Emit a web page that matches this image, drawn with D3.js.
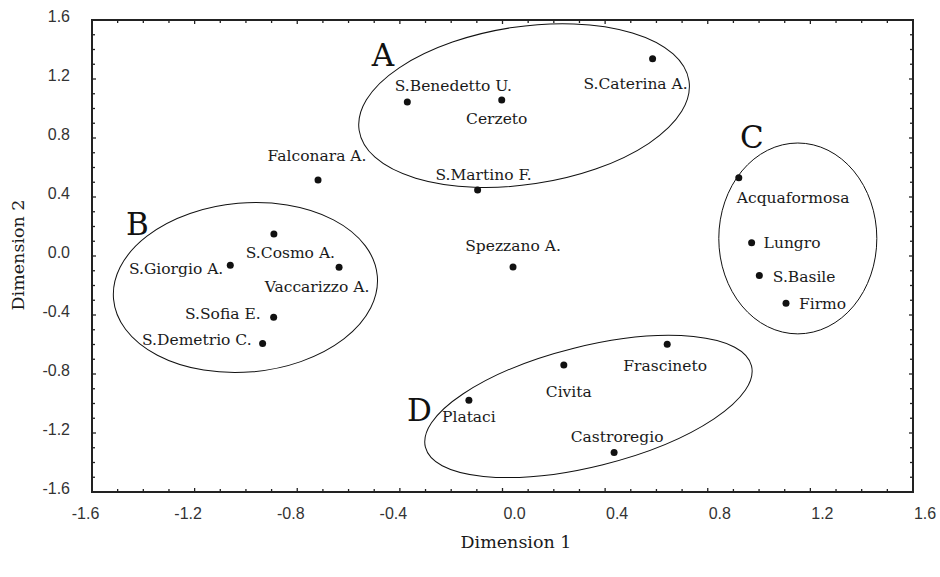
<!DOCTYPE html>
<html>
<head>
<meta charset="utf-8">
<script src="https://cdn.jsdelivr.net/npm/d3@7"></script>
<style>
  body { margin: 0; background: #fff; }
  svg { display: block; }
</style>
</head>
<body>
<div id="chart"></div>
<script>
// MDS configuration of the villages
const names = ["S.Caterina A.", "S.Benedetto U.", "Cerzeto", "S.Martino F.", "Falconara A.",
  "S.Cosmo A.", "S.Giorgio A.", "Vaccarizzo A.", "S.Sofia E.", "S.Demetrio C.",
  "Spezzano A.", "Acquaformosa", "Lungro", "S.Basile", "Firmo",
  "Frascineto", "Civita", "Plataci", "Castroregio"];
const dim1 = [0.585, -0.371, -0.003, -0.097, -0.719,
  -0.891, -1.061, -0.637, -0.892, -0.935,
  0.041, 0.921, 0.971, 1.001, 1.105,
  0.642, 0.239, -0.131, 0.435];
const dim2 = [1.338, 1.044, 1.058, 0.447, 0.515,
  0.149, -0.063, -0.077, -0.416, -0.594,
  -0.075, 0.531, 0.090, -0.133, -0.321,
  -0.599, -0.739, -0.978, -1.333];

// cluster ellipses: centre (data units), half-axes (x units, y units), tilt in degrees
const groups = ["A", "B", "C", "D"];
const groupCx = [0.084, -1.002, 1.151, 0.335];
const groupCy = [1.020, -0.214, 0.119, -1.020];
const groupRx = [0.650, 0.516, 0.308, 0.655];
const groupRy = [0.535, 0.573, 0.647, 0.407];
const groupTilt = [8.5, 5, 0, 14];
const letterX = [-0.466, -1.423, 0.972, -0.324];
const letterY = [1.363, 0.217, 0.807, -1.044];

const tickLabels = ["-1.6", "-1.2", "-0.8", "-0.4", "0.0", "0.4", "0.8", "1.2", "1.6"];

const W = 940, H = 577;
const margin = { top: 20, right: 27, bottom: 85, left: 92 };
const width = W - margin.left - margin.right,
  height = H - margin.top - margin.bottom;

const svg = d3.select("#chart").append("svg")
  .attr("width", W).attr("height", H);
const g = svg.append("g")
  .attr("transform", `translate(${margin.left},${margin.top})`);

const x = d3.scaleLinear().domain([-1.6, 1.6]).range([0, width]);
const y = d3.scaleLinear().domain([-1.6, 1.6]).range([height, 0]);

const serif = "'DejaVu Serif', serif";
const sans = "'Liberation Sans', Arial, sans-serif";

// minor ticks every 0.1, major every 0.4, all pointing inward
const minor = d3.range(-16, 17).map(d => d / 10);
const isMajor = d => Math.abs(Math.round(d * 10) % 4) === 0;

// bottom + top
[[height, -1], [0, 1]].forEach(([yy, dir]) => {
  g.append("g").selectAll("line").data(minor).join("line")
    .attr("x1", d => x(d)).attr("x2", d => x(d))
    .attr("y1", yy).attr("y2", d => yy + dir * (isMajor(d) ? 4 : 3))
    .attr("stroke", "#222").attr("stroke-width", 1.3);
});
// left + right
[[0, 1], [width, -1]].forEach(([xx, dir]) => {
  g.append("g").selectAll("line").data(minor).join("line")
    .attr("y1", d => y(d)).attr("y2", d => y(d))
    .attr("x1", xx).attr("x2", d => xx + dir * (isMajor(d) ? 4 : 3))
    .attr("stroke", "#222").attr("stroke-width", 1.3);
});

g.append("rect")
  .attr("width", width).attr("height", height)
  .attr("fill", "none").attr("stroke", "#222").attr("stroke-width", 2);

// tick labels
g.append("g").selectAll("text").data(tickLabels).join("text")
  .attr("x", d => x(+d) + (+d < 0 ? -6.5 : 12))
  .attr("y", height + 21)
  .attr("dominant-baseline", "central")
  .attr("text-anchor", "middle")
  .attr("font-family", sans).attr("font-size", 16).attr("fill", "#333")
  .text(d => d);

g.append("g").selectAll("text").data(tickLabels).join("text")
  .attr("x", -22)
  .attr("y", d => y(+d) - 4)
  .attr("dominant-baseline", "central")
  .attr("text-anchor", "end")
  .attr("font-family", sans).attr("font-size", 16).attr("fill", "#333")
  .text(d => d);

// axis titles
svg.append("text")
  .attr("x", 516).attr("y", 548)
  .attr("text-anchor", "middle")
  .attr("font-family", serif).attr("font-size", 17.5).attr("fill", "#1a1a1a")
  .text("Dimension 1");
svg.append("text")
  .attr("transform", "translate(24,255) rotate(-90)")
  .attr("text-anchor", "middle")
  .attr("font-family", serif).attr("font-size", 17.5).attr("fill", "#1a1a1a")
  .text("Dimension 2");

// ellipses
const gx = x(0), gy = y(0);
g.append("g").selectAll("ellipse").data(groups).join("ellipse")
  .attr("transform", (d, i) => `translate(${x(groupCx[i])},${y(groupCy[i])}) rotate(${-groupTilt[i]})`)
  .attr("rx", (d, i) => x(groupRx[i]) - gx)
  .attr("ry", (d, i) => gy - y(groupRy[i]))
  .attr("fill", "none").attr("stroke", "#111").attr("stroke-width", 1);

g.append("g").selectAll("text").data(groups).join("text")
  .attr("x", (d, i) => x(letterX[i]))
  .attr("y", (d, i) => y(letterY[i]) + 11)
  .attr("text-anchor", "middle")
  .attr("font-family", serif).attr("font-size", 31).attr("fill", "#111")
  .text(d => d);

// points
g.append("g").selectAll("circle").data(names).join("circle")
  .attr("cx", (d, i) => x(dim1[i]))
  .attr("cy", (d, i) => y(dim2[i]))
  .attr("r", 3.5).attr("fill", "#111");

// label placement relative to each dot: [anchor, dx, dy of text centre]
const place = {
  "S.Caterina A.": ["middle", -17, 25],
  "S.Benedetto U.": ["middle", 46, -17],
  "Cerzeto": ["middle", -5, 19],
  "S.Martino F.": ["middle", 6, -16],
  "Falconara A.": ["middle", -1, -25],
  "S.Cosmo A.": ["middle", 16.5, 18],
  "S.Giorgio A.": ["end", -7, 3],
  "Vaccarizzo A.": ["middle", -22, 19],
  "S.Sofia E.": ["end", -13, -4],
  "S.Demetrio C.": ["end", -11, -4],
  "Spezzano A.": ["middle", 0, -22],
  "Acquaformosa": ["start", -2, 20],
  "Lungro": ["start", 12, 0],
  "S.Basile": ["start", 13.5, 1],
  "Firmo": ["start", 13, 0],
  "Frascineto": ["middle", -2, 21],
  "Civita": ["middle", 5, 26],
  "Plataci": ["middle", 0, 16],
  "Castroregio": ["middle", 3, -16]
};

g.append("g").selectAll("text").data(names).join("text")
  .attr("x", (d, i) => x(dim1[i]) + place[d][1])
  .attr("y", (d, i) => y(dim2[i]) + place[d][2] + 5.5)
  .attr("text-anchor", d => place[d][0])
  .attr("font-family", serif).attr("font-size", 15.5).attr("fill", "#1a1a1a")
  .text(d => d);
</script>
</body>
</html>
